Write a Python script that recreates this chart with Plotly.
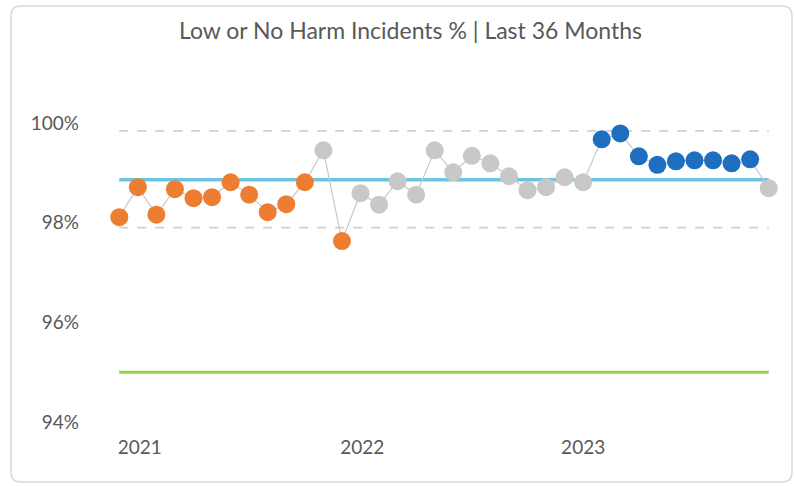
import plotly.graph_objects as go

months = list(range(36))
values = [98.11, 98.71, 98.16, 98.67, 98.49, 98.51, 98.81, 98.56, 98.21, 98.37,
          98.81, 99.45, 97.63, 98.59, 98.36, 98.83, 98.56, 99.45, 99.01, 99.34,
          99.19, 98.93, 98.65, 98.71, 98.91, 98.81, 99.67, 99.79, 99.33, 99.16,
          99.23, 99.25, 99.25, 99.19, 99.27, 98.69]
# point category: o = orange (low special cause), g = common cause, b = blue (high special cause)
status = list("ooooooooooogoggggggggggggg" + "bbbbbbbbb" + "g")
mean_val = 98.86
upper_val = 99.84
lower_val = 97.90
target_val = 95.0
year_labels = ["2021", "2022", "2023"]
year_pos = [1.1, 13.1, 25.0]
y_ticks = [94, 96, 98, 100]
y_tick_text = ["94%", "96%", "98%", "100%"]

color_map = {"o": "#ED7D31", "g": "#C8C8C8", "b": "#1F6FC0"}
colors = [color_map[s] for s in status]

fig = go.Figure()
fig.add_trace(go.Scatter(x=months, y=[upper_val] * 36, mode="lines",
                         line=dict(color="#D0D0D0", width=1.6, dash="dash"), hoverinfo="skip"))
fig.add_trace(go.Scatter(x=months, y=[lower_val] * 36, mode="lines",
                         line=dict(color="#D0D0D0", width=1.6, dash="dash"), hoverinfo="skip"))
fig.add_trace(go.Scatter(x=months, y=[mean_val] * 36, mode="lines",
                         line=dict(color="#6CC4E0", width=3.5), hoverinfo="skip"))
fig.add_trace(go.Scatter(x=months, y=[target_val] * 36, mode="lines",
                         line=dict(color="#92D050", width=3), hoverinfo="skip"))
fig.add_trace(go.Scatter(x=months, y=values, mode="lines+markers",
                         line=dict(color="#C8C8C8", width=1.2),
                         marker=dict(color=colors, size=18, line=dict(width=0))))

fig.update_layout(
    width=794, height=486,
    margin=dict(l=110, r=16, t=98, b=64),
    paper_bgcolor="white", plot_bgcolor="white",
    showlegend=False,
    font=dict(family="Lato, Open Sans, sans-serif", color="#595959", size=19),
    title=dict(text="Low or No Harm Incidents % | Last 36 Months", x=0.517, xanchor="center",
               y=0.937, yanchor="middle", font=dict(size=23, color="#595959")),
    xaxis=dict(range=[-0.5, 35.5], tickmode="array", tickvals=year_pos, ticktext=year_labels,
               showgrid=False, zeroline=False, showline=False, ticks="", ticklabelstandoff=12),
    yaxis=dict(range=[94, 100.5], tickmode="array", tickvals=y_ticks, ticktext=y_tick_text,
               showgrid=False, zeroline=False, showline=False, ticks="", ticklabelstandoff=30),
)

# rounded chart border (in pixel-derived paper coordinates)
pw, ph = 794 - 110 - 16, 486 - 98 - 64
def px(x):
    return (x - 110) / pw
def py(y):
    return (486 - 64 - y) / ph
x0, x1, y0, y1, r = 11, 792, 6, 482, 10
path = (f"M {px(x0 + r)},{py(y0)} L {px(x1 - r)},{py(y0)} Q {px(x1)},{py(y0)} {px(x1)},{py(y0 + r)} "
        f"L {px(x1)},{py(y1 - r)} Q {px(x1)},{py(y1)} {px(x1 - r)},{py(y1)} "
        f"L {px(x0 + r)},{py(y1)} Q {px(x0)},{py(y1)} {px(x0)},{py(y1 - r)} "
        f"L {px(x0)},{py(y0 + r)} Q {px(x0)},{py(y0)} {px(x0 + r)},{py(y0)} Z")
fig.add_shape(type="path", path=path, xref="paper", yref="paper",
              line=dict(color="#D9D9D9", width=1.5), layer="below")

fig.write_html("out.html")
